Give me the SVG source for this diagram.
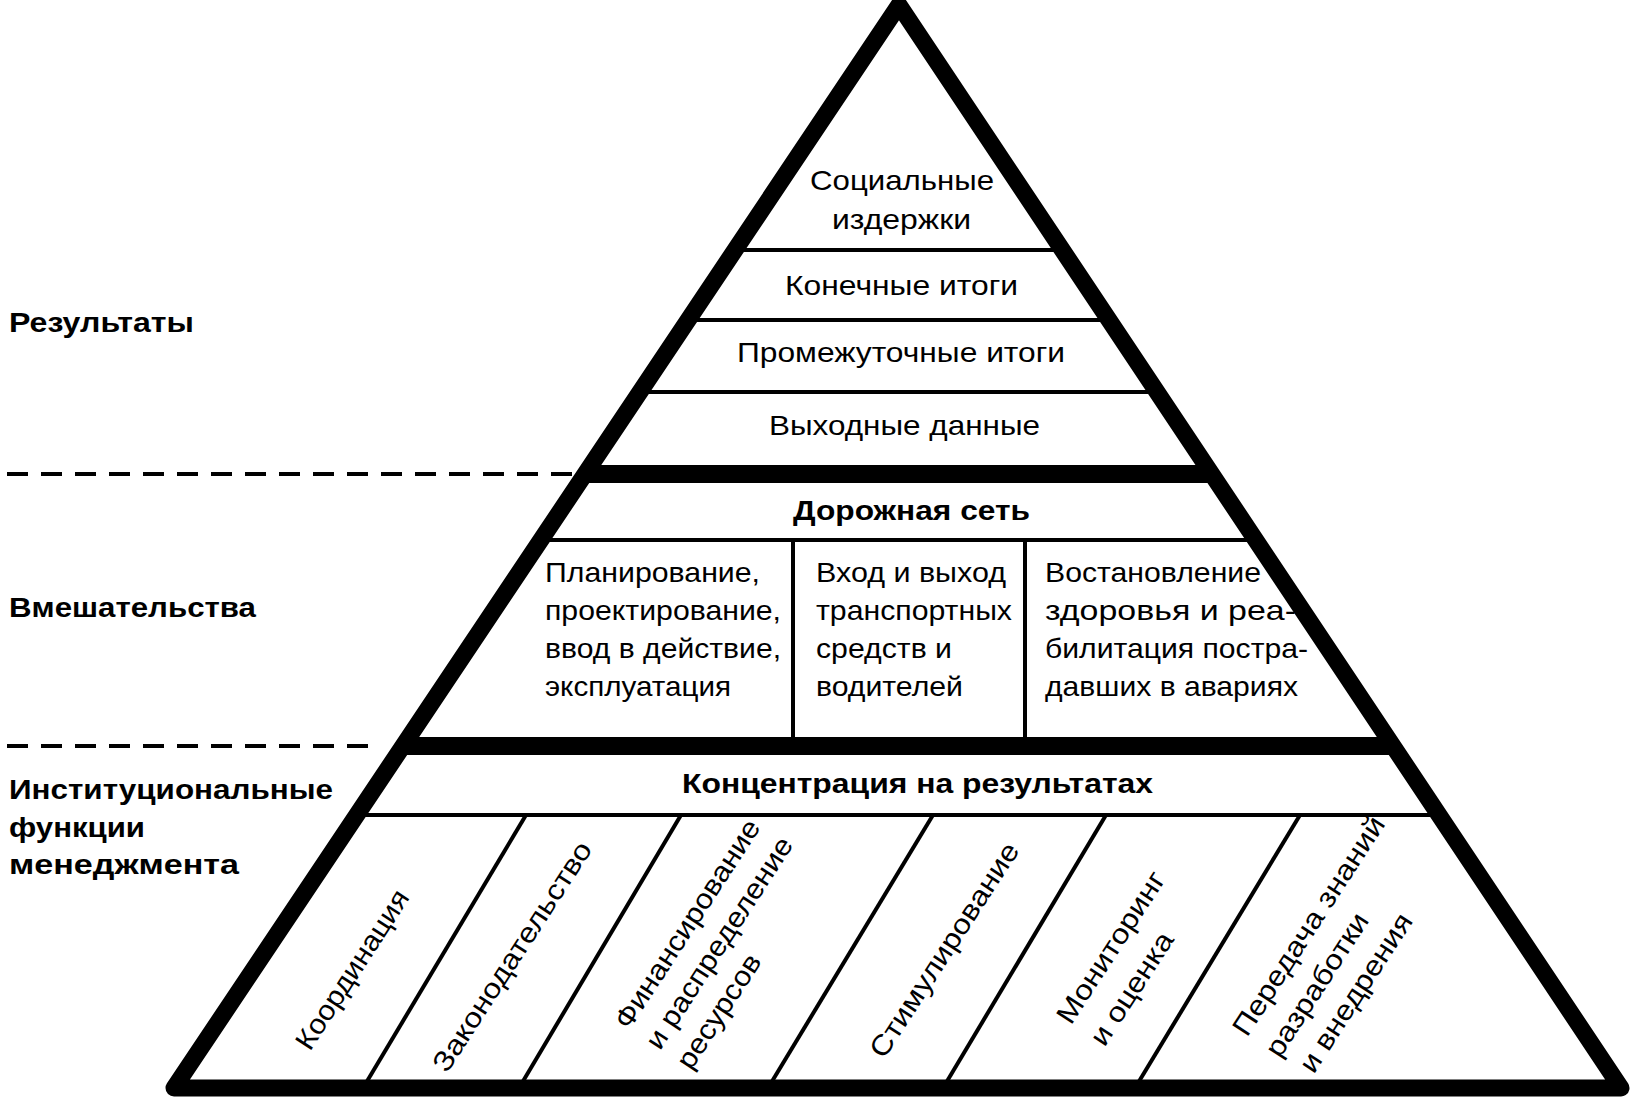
<svg xmlns="http://www.w3.org/2000/svg" width="1637" height="1098" viewBox="0 0 1637 1098">
<style>
.t{font-family:"Liberation Sans",Arial,sans-serif;font-size:28px;fill:#000}
.b{font-family:"Liberation Sans",Arial,sans-serif;font-size:28px;font-weight:bold;fill:#000}
.thin{stroke:#000;stroke-width:4;fill:none}
.thick{stroke:#000;stroke-width:18;fill:none}
.dash{stroke:#000;stroke-width:4;stroke-dasharray:21 13;fill:none}
</style>
<rect width="1637" height="1098" fill="#fff"/>
<g id="connectors">
  <line class="dash" x1="7" y1="474" x2="572" y2="474"/>
  <line class="dash" x1="7" y1="746" x2="368" y2="746"/>
  <line class="thin" x1="735" y1="250" x2="1062" y2="250"/>
  <line class="thin" x1="688" y1="320" x2="1109" y2="320"/>
  <line class="thin" x1="640" y1="392" x2="1157" y2="392"/>
  <line class="thick" x1="585" y1="474" x2="1211" y2="474"/>
  <line class="thin" x1="541" y1="540" x2="1255" y2="540"/>
  <line class="thin" x1="793" y1="540" x2="793" y2="746"/>
  <line class="thin" x1="1025" y1="540" x2="1025" y2="746"/>
  <line class="thick" x1="403" y1="746" x2="1393" y2="746"/>
  <line class="thin" x1="357" y1="815" x2="1439" y2="815" stroke-width="5"/>
  <line class="thin" x1="526" y1="815" x2="363" y2="1088"/>
  <line class="thin" x1="681" y1="815" x2="519" y2="1088"/>
  <line class="thin" x1="933" y1="815" x2="768" y2="1088"/>
  <line class="thin" x1="1106" y1="815" x2="943" y2="1088"/>
  <line class="thin" x1="1300" y1="815" x2="1135" y2="1088"/>
  <polygon points="899,5 1621,1088 174,1088" fill="none" stroke="#000" stroke-width="17" stroke-linejoin="round"/>
</g>
<g id="label-results"><text class="b" x="9" y="332" textLength="185" lengthAdjust="spacingAndGlyphs">Результаты</text></g>
<g id="label-interventions"><text class="b" x="9" y="617" textLength="247" lengthAdjust="spacingAndGlyphs">Вмешательства</text></g>
<g id="label-institutional"><text class="b" x="9" y="799" textLength="324" lengthAdjust="spacingAndGlyphs">Институциональные</text><text class="b" x="9" y="837" textLength="136" lengthAdjust="spacingAndGlyphs">функции</text><text class="b" x="9" y="874" textLength="230" lengthAdjust="spacingAndGlyphs">менеджмента</text></g>
<g id="node-social"><text class="t" x="810" y="190" textLength="184" lengthAdjust="spacingAndGlyphs">Социальные</text><text class="t" x="832" y="229" textLength="139" lengthAdjust="spacingAndGlyphs">издержки</text></g>
<g id="node-final"><text class="t" x="785" y="295" textLength="233" lengthAdjust="spacingAndGlyphs">Конечные итоги</text></g>
<g id="node-intermediate"><text class="t" x="737" y="362" textLength="328" lengthAdjust="spacingAndGlyphs">Промежуточные итоги</text></g>
<g id="node-output"><text class="t" x="769" y="435" textLength="271" lengthAdjust="spacingAndGlyphs">Выходные данные</text></g>
<g id="node-road"><text class="b" x="793" y="520" textLength="237" lengthAdjust="spacingAndGlyphs">Дорожная сеть</text></g>
<g id="node-planning"><text class="t" x="545" y="582" textLength="215" lengthAdjust="spacingAndGlyphs">Планирование,</text><text class="t" x="545" y="620" textLength="236" lengthAdjust="spacingAndGlyphs">проектирование,</text><text class="t" x="545" y="658" textLength="236" lengthAdjust="spacingAndGlyphs">ввод в действие,</text><text class="t" x="545" y="696" textLength="186" lengthAdjust="spacingAndGlyphs">эксплуатация</text></g>
<g id="node-vehicles"><text class="t" x="816" y="582" textLength="190" lengthAdjust="spacingAndGlyphs">Вход и выход</text><text class="t" x="816" y="620" textLength="196" lengthAdjust="spacingAndGlyphs">транспортных</text><text class="t" x="816" y="658" textLength="136" lengthAdjust="spacingAndGlyphs">средств и</text><text class="t" x="816" y="696" textLength="147" lengthAdjust="spacingAndGlyphs">водителей</text></g>
<g id="node-health"><text class="t" x="1045" y="582" textLength="216" lengthAdjust="spacingAndGlyphs">Востановление</text><text class="t" x="1045" y="620" textLength="251" lengthAdjust="spacingAndGlyphs">здоровья и реа-</text><text class="t" x="1045" y="658" textLength="263" lengthAdjust="spacingAndGlyphs">билитация постра-</text><text class="t" x="1045" y="696" textLength="253" lengthAdjust="spacingAndGlyphs">давших в авариях</text></g>
<g id="node-focus"><text class="b" x="682" y="793" textLength="471" lengthAdjust="spacingAndGlyphs">Концентрация на результатах</text></g>
<g id="node-coord" transform="translate(310,1052) rotate(-57) scale(1.07,1)"><text class="t" x="0" y="0">Координация</text></g>
<g id="node-law" transform="translate(447,1074) rotate(-57) scale(1.13,1)"><text class="t" x="0" y="0">Законодательство</text></g>
<g id="node-finance" transform="translate(629,1031) rotate(-57) scale(1.1,1)"><text class="t" x="0" y="0">Финансирование</text><text class="t" x="0" y="37">и распределение</text><text class="t" x="0" y="74">ресурсов</text></g>
<g id="node-stim" transform="translate(884,1060) rotate(-57) scale(1.13,1)"><text class="t" x="0" y="0">Стимулирование</text></g>
<g id="node-monitor" transform="translate(1071,1026) rotate(-57) scale(1.13,1)"><text class="t" x="0" y="0">Мониторинг</text><text class="t" x="0" y="40">и оценка</text></g>
<g id="node-transfer" transform="translate(1247,1038) rotate(-57) scale(1.13,1)"><text class="t" x="0" y="0">Передача знаний</text><text class="t" x="0" y="39">разработки</text><text class="t" x="5" y="76">и внедрения</text></g>
</svg>
